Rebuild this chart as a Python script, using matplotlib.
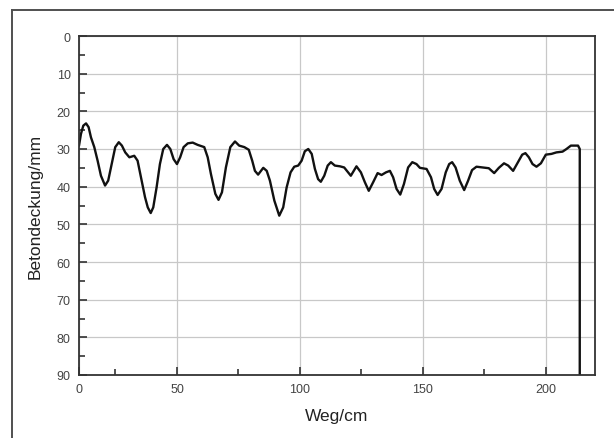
import numpy as np
import matplotlib
matplotlib.use("Agg")
import matplotlib.pyplot as plt
from matplotlib.lines import Line2D

# ---- data ----
weg_cm = [0.0, 1.0, 2.2, 3.6, 4.9, 6.1, 7.8, 9.5, 11.2, 13.3, 14.9, 16.7, 18.5, 20.3,
          21.9, 23.6, 25.7, 28.2, 29.9, 31.6, 33.7, 35.1, 36.6, 37.9, 39.6, 41.3, 43.0,
          44.9, 46.6, 48.3, 50.0, 51.3, 52.7, 54.4, 56.4, 58.4, 61.1, 62.5, 63.8, 65.6,
          66.9, 68.3, 69.9, 71.7, 73.6, 75.3, 77.4, 79.2, 80.6, 81.7, 83.0, 85.1, 86.5,
          87.8, 89.6, 91.6, 93.2, 94.6, 96.2, 97.7, 99.3, 100.7, 102.0, 103.4, 104.8,
          106.1, 107.4, 108.5, 109.9, 111.3, 112.6, 114.2, 116.3, 118.0, 120.7, 123.0,
          124.8, 126.4, 128.0, 129.8, 131.6, 133.2, 135.0, 136.6, 137.9, 139.3, 140.8,
          142.3, 144.0, 145.7, 147.4, 148.8, 151.5, 153.3, 154.6, 156.0, 157.6, 159.3,
          160.7, 161.9, 163.3, 165.0, 166.8, 168.4, 170.0, 171.8, 174.5, 176.8, 179.0,
          180.9, 183.0, 184.7, 186.7, 188.7, 190.4, 191.7, 193.1, 194.6, 196.2, 198.0,
          200.0, 202.3, 204.3, 206.8, 208.4, 210.2, 213.1, 213.8, 213.8]
betondeckung_mm = [29.1, 26.0, 23.8, 23.2, 24.2, 26.9, 29.5, 33.1, 37.1, 39.7, 38.4, 34.0,
                   29.5, 28.2, 29.1, 30.9, 32.2, 31.8, 33.1, 37.5, 42.8, 45.5, 47.0, 45.5,
                   40.2, 34.0, 30.0, 28.9, 30.0, 32.7, 34.0, 32.2, 29.5, 28.5, 28.3, 28.9,
                   29.5, 32.2, 36.6, 41.9, 43.5, 41.5, 34.9, 29.5, 28.0, 29.1, 29.5, 30.2,
                   33.1, 35.8, 36.8, 35.0, 35.8, 38.4, 43.7, 47.7, 45.5, 40.2, 36.2, 34.7,
                   34.4, 33.1, 30.6, 30.0, 31.3, 35.3, 38.0, 38.7, 37.1, 34.4, 33.5, 34.4,
                   34.6, 34.9, 37.1, 34.6, 36.2, 38.8, 41.1, 38.8, 36.4, 36.9, 36.2, 35.8,
                   37.5, 40.6, 42.1, 39.3, 34.9, 33.5, 34.0, 35.0, 35.3, 37.5, 40.6, 42.2,
                   40.6, 36.2, 34.0, 33.5, 34.9, 38.4, 40.9, 38.4, 35.6, 34.7, 34.9, 35.1,
                   36.4, 35.0, 33.8, 34.4, 35.8, 33.5, 31.5, 31.1, 32.2, 34.0, 34.7, 33.8,
                   31.5, 31.3, 30.9, 30.7, 30.0, 29.1, 29.1, 30.0, 90.0]
x_ticks = [0, 50, 100, 150, 200]
y_ticks = [0, 10, 20, 30, 40, 50, 60, 70, 80, 90]
x_label = "Weg/cm"
y_label = "Betondeckung/mm"

# the reference axis is compressed between 0 and 50
K = 98.0 / 123.0

def fwd(x):
    x = np.asarray(x, dtype=float)
    return np.where(x < 50, 50 - (50 - x) * K, x)

def inv(t):
    t = np.asarray(t, dtype=float)
    return np.where(t < 50, 50 - (50 - t) / K, t)

plt.rcParams['font.family'] = ['Liberation Sans', 'DejaVu Sans']

fig = plt.figure(figsize=(6.14, 4.39), dpi=100)
fig.patch.set_facecolor('white')
W, H = 614, 439
ax = fig.add_axes([79 / W, 1 - 376 / H, (595 - 79) / W, (376 - 37) / H])

ax.set_xscale('function', functions=(fwd, inv))
ax.plot(weg_cm, betondeckung_mm, color='#111111', lw=1.7,
        solid_joinstyle='round', solid_capstyle='round')

ax.set_xlim(0, float(inv(220.0)))
ax.set_ylim(90, 0)
ax.set_xticks(x_ticks)
ax.set_xticklabels([str(v) for v in x_ticks])
ax.set_xticks([float(inv(v)) for v in (25, 75, 125, 175)], minor=True)
ax.set_yticks(y_ticks)
ax.set_yticks(np.arange(5, 90, 10), minor=True)

ax.grid(True, which='major', color='#c8c8c8', lw=0.9)
ax.set_axisbelow(True)
for s in ax.spines.values():
    s.set_color('#333333')
    s.set_linewidth(1.3)

ax.tick_params(which='both', direction='in', top=False, right=False,
               colors='#333333', labelcolor='#444444', labelsize=9, width=1.2)
ax.tick_params(which='major', length=6, pad=6)
ax.tick_params(which='minor', length=4)

ax.set_xlabel(x_label, fontsize=12.5, color='#222222', labelpad=9)
ax.set_ylabel(y_label, fontsize=12.5, color='#222222', labelpad=10)

# outer frame (top and left edges visible in the reference)
fig.add_artist(Line2D([12 / W, 1.0], [1 - 11 / H, 1 - 11 / H], transform=fig.transFigure,
                      color='#505050', lw=1.4))
fig.add_artist(Line2D([12 / W, 12 / W], [1 - 11 / H, 0.0], transform=fig.transFigure,
                      color='#505050', lw=1.4))

fig.savefig('out.png', dpi=100, facecolor='white')
